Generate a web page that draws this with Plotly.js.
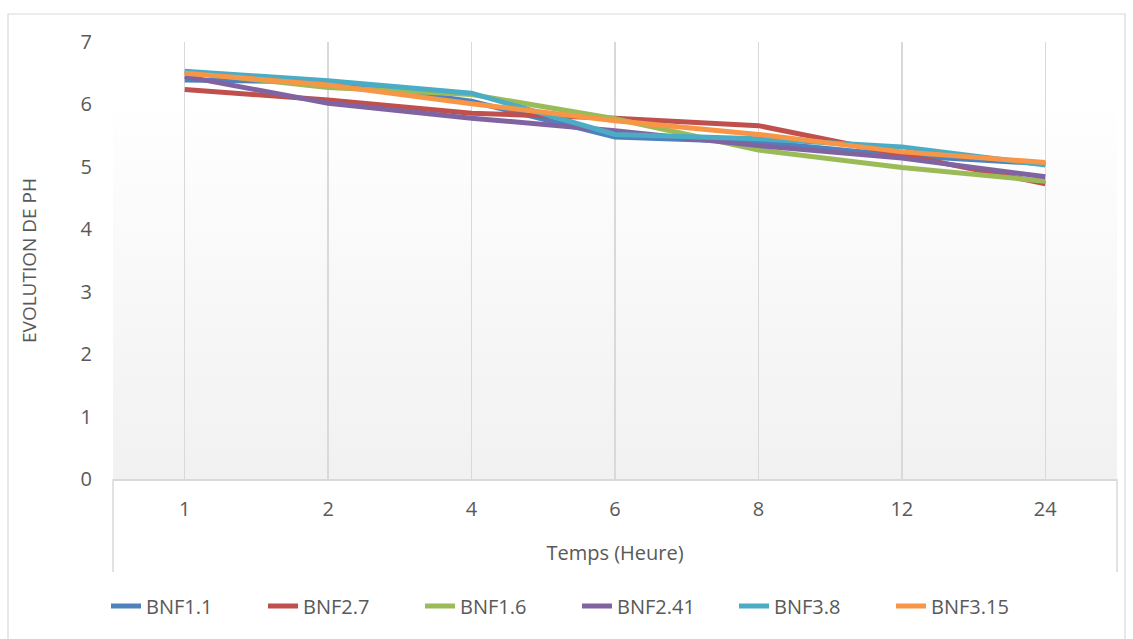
<!DOCTYPE html>
<html><head><meta charset="utf-8">
<script src="https://cdn.plot.ly/plotly-3.0.1.min.js"></script>
<style>html,body{margin:0;padding:0;background:#fff}#chart{width:1133px;height:639px}</style>
</head><body><div id="chart"></div>
<script>
const hours = ["1","2","4","6","8","12","24"];
const BNF1_1  = [6.39, 6.36, 6.05, 5.48, 5.40, 5.18, 5.05];
const BNF2_7  = [6.24, 6.07, 5.86, 5.78, 5.66, 5.19, 4.73];
const BNF1_6  = [6.52, 6.27, 6.16, 5.77, 5.27, 4.99, 4.77];
const BNF2_41 = [6.45, 6.02, 5.78, 5.58, 5.34, 5.14, 4.84];
const BNF3_8  = [6.53, 6.38, 6.18, 5.52, 5.45, 5.32, 5.03];
const BNF3_15 = [6.50, 6.31, 6.01, 5.74, 5.52, 5.24, 5.07];
const seriesNames = ["BNF1.1","BNF2.7","BNF1.6","BNF2.41","BNF3.8","BNF3.15"];
const seriesVals = [BNF1_1, BNF2_7, BNF1_6, BNF2_41, BNF3_8, BNF3_15];
const colors = ["#4F81BD","#C0504D","#9BBB59","#8064A2","#4BACC6","#F79646"];
const yTicks = [0,1,2,3,4,5,6,7];

const traces = seriesNames.map((n,i)=>({
  type:'scatter', mode:'lines', name:n, x:hours, y:seriesVals[i],
  line:{color:colors[i], width:5}
}));

const W=1133,H=639,L=113,R=16,T=42,B=160;
const pw=W-L-R, ph=H-T-B;
const px=v=>(v-L)/pw, py=v=>(H-B-v)/ph;

const grad = 'data:image/svg+xml;utf8,' + encodeURIComponent(
 '<svg xmlns="http://www.w3.org/2000/svg" width="100" height="100" preserveAspectRatio="none"><defs><linearGradient id="g" x1="0" y1="0" x2="0" y2="1"><stop offset="0" stop-color="#ffffff"/><stop offset="0.12" stop-color="#ffffff"/><stop offset="1" stop-color="#f1f1f1"/></linearGradient></defs><rect width="100" height="100" fill="url(#g)"/></svg>');

const layout = {
  width:W, height:H, margin:{l:L,r:R,t:T,b:B},
  paper_bgcolor:'#ffffff', plot_bgcolor:'rgba(0,0,0,0)',
  font:{family:'"Open Sans", "Liberation Sans", sans-serif', color:'#595959', size:20},
  showlegend:true,
  legend:{orientation:'h', x:px(106), xanchor:'left', y:py(606), yanchor:'middle',
    font:{size:20,color:'#595959'}, itemwidth:30, entrywidth:112, entrywidthmode:'pixels',
    bgcolor:'rgba(0,0,0,0)'},
  xaxis:{type:'category', range:[-0.5,6.5], showgrid:true, gridcolor:'#d9d9d9', gridwidth:1.5,
    showline:true, linecolor:'#d9d9d9', linewidth:1.5, ticks:'', zeroline:false,
    tickfont:{size:20,color:'#595959'}, ticklabelstandoff:11, fixedrange:true,
    title:{text:'Temps (Heure)', font:{size:20,color:'#595959'}, standoff:14}, automargin:false},
  yaxis:{range:[0,7], tickvals:yTicks, showgrid:false, zeroline:false, showline:false, ticks:'',
    tickfont:{size:20,color:'#595959'}, ticklabelstandoff:20,
    title:{text:'EVOLUTION DE PH', font:{size:19,color:'#595959'}, standoff:22}, automargin:false},
  images:[{source:grad, xref:'paper', yref:'paper', x:0, y:1, sizex:1, sizey:1,
    xanchor:'left', yanchor:'top', sizing:'stretch', layer:'below'}],
  shapes:[
    {type:'line', xref:'paper', yref:'paper', x0:0, x1:0, y0:0, y1:py(572), line:{color:'#d9d9d9', width:1.5}},
    {type:'line', xref:'paper', yref:'paper', x0:1, x1:1, y0:0, y1:py(572), line:{color:'#d9d9d9', width:1.5}},
    {type:'rect', xref:'paper', yref:'paper', x0:px(8), x1:px(1125), y0:py(14), y1:py(645), line:{color:'#d9d9d9', width:1.2}, fillcolor:'rgba(0,0,0,0)'}
  ]
};
Plotly.newPlot('chart', traces, layout, {displayModeBar:false, staticPlot:true}).then(gd=>{
  // fine-tune axis title positions to match reference
  const xt = gd.querySelector('.g-xtitle text');
  if (xt) { xt.setAttribute('y', 560); }
  const yt = gd.querySelector('.g-ytitle text');
  if (yt) { yt.setAttribute('x', 36); const tr = yt.getAttribute('transform'); if (tr) yt.setAttribute('transform', tr.replace(/rotate\(-90,\s*[\d.]+,\s*([\d.]+)\)/, 'rotate(-90,36,$1)')); }
});
</script></body></html>
